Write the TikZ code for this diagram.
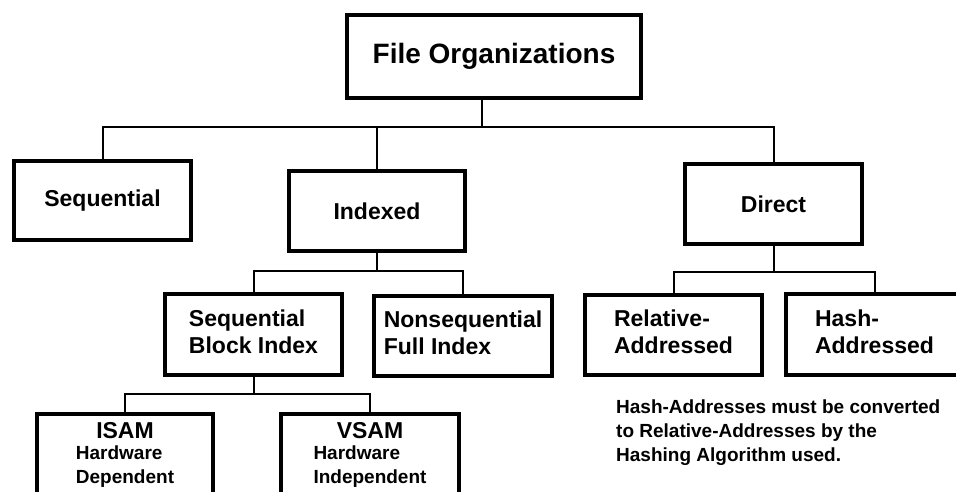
\documentclass[tikz,border=0pt]{standalone}
\usepackage{fontspec}
\setmainfont{Liberation Sans}
\begin{document}
\begin{tikzpicture}[x=1pt,y=-1pt,
  box/.style={draw, line width=4pt, rectangle, inner sep=0pt, align=center,
    font=\bfseries\fontsize{23}{27}\selectfont},
  conn/.style={line width=2pt},
  small/.style={font=\bfseries\fontsize{19}{24}\selectfont}]
\fill[white] (0,0) rectangle (956,491);
\useasboundingbox (0,0) rectangle (956,491);
\clip (0,0) rectangle (956,491);

\node[box, minimum width=294pt, minimum height=83pt,
  font=\bfseries\fontsize{28}{32}\selectfont] (top) at (494,56.5) {File Organizations};
\node[box, minimum width=177pt, minimum height=79pt] (seq) at (102.5,200.5) {Sequential};
\node[box, minimum width=176pt, minimum height=80pt] (idx) at (377,211) {Indexed};
\node[box, minimum width=177pt, minimum height=80pt] (dir) at (773.5,204) {Direct};

\node[box, minimum width=177pt, minimum height=81pt] (sbi) at (253.5,334.5)
  {\begin{tabular}{@{}l@{}}Sequential\\Block Index\end{tabular}};
\node[box, minimum width=178pt, minimum height=80pt] (nfi) at (463,336)
  {\begin{tabular}{@{}l@{}}Nonsequential\\Full Index\end{tabular}};
\node[box, minimum width=177pt, minimum height=80pt] (rel) at (673.5,335)
  {\begin{tabular}{@{}l@{}}Relative-\\Addressed\end{tabular}};
\node[box, minimum width=177pt, minimum height=81pt] (hash) at (874.5,334.5)
  {\begin{tabular}{@{}l@{}}Hash-\\Addressed\end{tabular}};

\node[box, minimum width=176pt, minimum height=84pt] (isam) at (125,456)
  {\begin{tabular}{@{}l@{}}\multicolumn{1}{@{}c@{}}{ISAM}\\[-6pt]
   \fontsize{19}{24}\selectfont Hardware\\[-3pt]
   \fontsize{19}{24}\selectfont Dependent\end{tabular}};
\node[box, minimum width=178pt, minimum height=84pt] (vsam) at (370,456)
  {\begin{tabular}{@{}l@{}}\multicolumn{1}{@{}c@{}}{VSAM}\\[-6pt]
   \fontsize{19}{24}\selectfont Hardware\\[-3pt]
   \fontsize{19}{24}\selectfont Independent\end{tabular}};

\node[small, align=left, anchor=north west, inner sep=0pt] (note) at (616,400)
  {Hash-Addresses must be converted\\to Relative-Addresses by the\\Hashing Algorithm used.};

% connectors
\coordinate (j1) at (482,127);
\draw[conn] (j1 |- top.south) -- (j1);
\draw[conn] (seq.north) |- (j1) -| (dir.north);
\draw[conn] (idx.north) -- (idx.north |- j1);

\draw[conn] (idx.south) -- ++(0,18) coordinate (j2);
\draw[conn] (sbi.north) |- (j2) -| (nfi.north);

\draw[conn] (sbi.south) -- ++(0,17) coordinate (j3);
\draw[conn] (isam.north) |- (j3) -| (vsam.north);

\draw[conn] (dir.south) -- ++(0,26) coordinate (j4);
\draw[conn] (rel.north) |- (j4) -| (hash.north);
\end{tikzpicture}
\end{document}
